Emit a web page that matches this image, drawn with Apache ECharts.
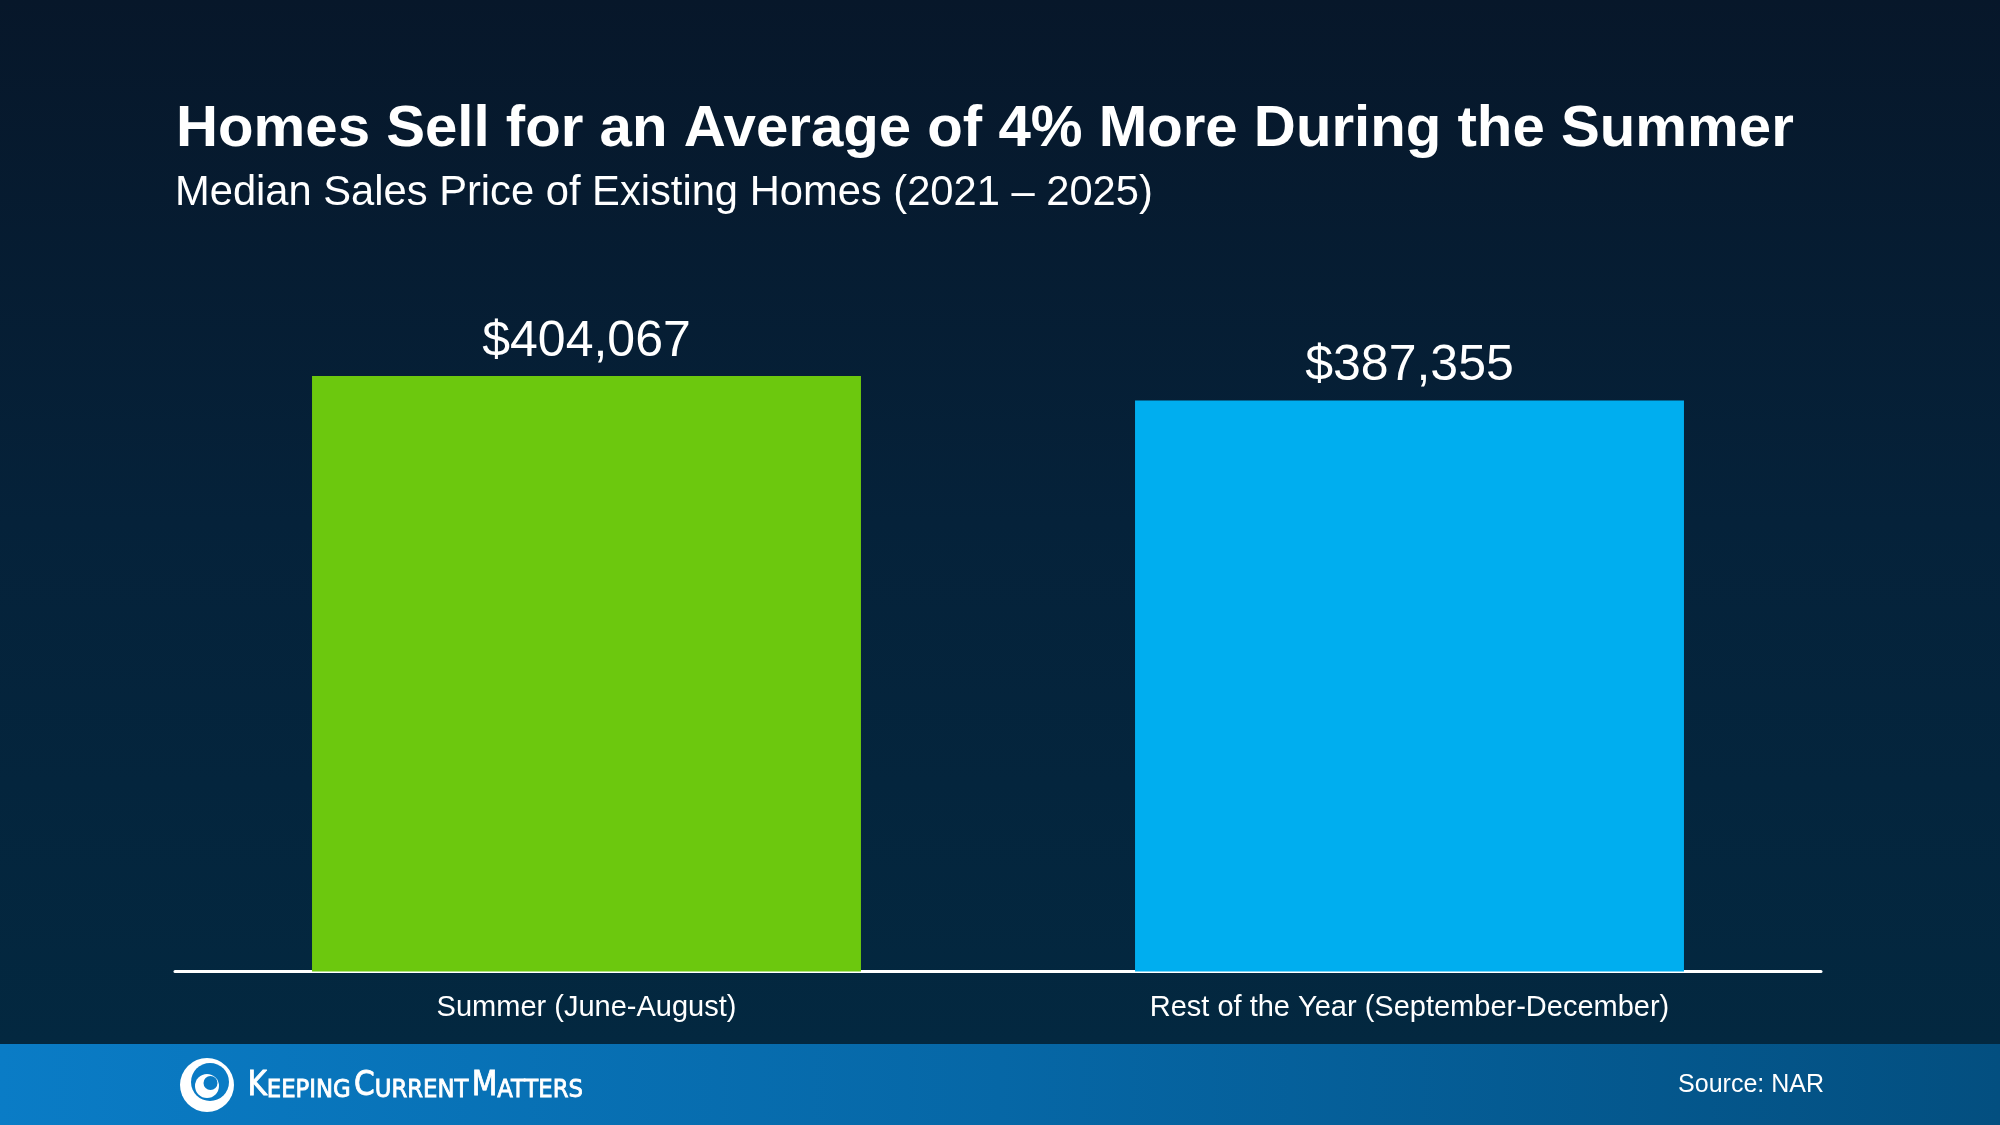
<!DOCTYPE html>
<html>
<head>
<meta charset="utf-8">
<title>Homes Sell for an Average of 4% More During the Summer</title>
<script src="https://cdn.jsdelivr.net/npm/echarts@6/dist/echarts.min.js"></script>
<style>
  html, body { margin: 0; padding: 0; background: #061b2c; }
  #chart { width: 2000px; height: 1125px; }
</style>
</head>
<body>
<div id="chart"></div>
<script>
// data
var categories = ['Summer (June-August)', 'Rest of the Year (September-December)'];
var prices = [404067, 387355];
var barColors = ['#6cc80e', '#00aeef'];

var FONT = '"Liberation Sans", Arial, Helvetica, sans-serif';
var NARROW = '"Liberation Sans Narrow", "DejaVu Sans Condensed", "Liberation Sans", sans-serif';

var chart = echarts.init(document.getElementById('chart'));

function money(v) {
    return '$' + v.toString().replace(/\B(?=(\d{3})+(?!\d))/g, ',');
}

var option = {
    backgroundColor: 'transparent',
    animation: false,
    title: [{
        text: 'Homes Sell for an Average of 4% More During the Summer',
        left: 171,
        top: 96,
        textStyle: { color: '#ffffff', fontSize: 58.2, fontWeight: 'bold', fontFamily: FONT }
    }, {
        text: 'Median Sales Price of Existing Homes (2021 \u2013 2025)',
        left: 170,
        top: 168,
        textStyle: { color: '#ffffff', fontSize: 41.7, fontWeight: 'normal', fontFamily: FONT }
    }],
    grid: { left: 175, right: 179, top: 205, bottom: 153.5 },
    xAxis: {
        type: 'category',
        data: categories,
        axisLine: { lineStyle: { color: '#ffffff', width: 3 } },
        axisTick: { show: false },
        axisLabel: { color: '#ffffff', fontSize: 29, fontFamily: FONT, margin: 22, interval: 0 }
    },
    yAxis: {
        type: 'value',
        min: 0,
        max: 520000,
        show: false,
        splitLine: { show: false }
    },
    series: [{
        type: 'bar',
        barWidth: '66.7%',
        data: prices.map(function (v, i) {
            return { value: v, itemStyle: { color: barColors[i] } };
        }),
        label: {
            show: true,
            position: 'top',
            distance: 9,
            color: '#ffffff',
            fontSize: 50,
            fontFamily: FONT,
            formatter: function (p) { return money(p.value); }
        }
    }],
    graphic: [
        {
            type: 'rect', z: -10, silent: true,
            shape: { x: 0, y: 0, width: 2000, height: 1044 },
            style: {
                fill: new echarts.graphic.LinearGradient(0, 0, 0, 1, [
                    { offset: 0, color: '#07172a' },
                    { offset: 0.5, color: '#05223a' },
                    { offset: 1, color: '#032840' }
                ])
            }
        },
        {
            type: 'rect', z: -10, silent: true,
            shape: { x: 0, y: 1044, width: 2000, height: 81 },
            style: {
                fill: new echarts.graphic.LinearGradient(0, 0, 1, 0.3, [
                    { offset: 0, color: '#0a7cc6' },
                    { offset: 0.5, color: '#0667a6' },
                    { offset: 1, color: '#034f80' }
                ])
            }
        },
        // logo swirl
        { type: 'circle', silent: true, shape: { cx: 207, cy: 1085, r: 27 }, style: { fill: '#ffffff' } },
        { type: 'circle', silent: true, shape: { cx: 210, cy: 1082, r: 19 }, style: { fill: '#0a7bc5' } },
        { type: 'circle', silent: true, shape: { cx: 207, cy: 1086, r: 12 }, style: { fill: '#ffffff' } },
        { type: 'circle', silent: true, shape: { cx: 210.5, cy: 1083, r: 7 }, style: { fill: '#0a7bc5' } },
        {
            type: 'text', silent: true,
            left: 247, top: 1070,
            style: {
                text: '{b|K}{s|EEPING} {b|C}{s|URRENT} {b|M}{s|ATTERS}',
                rich: {
                    b: { fill: '#ffffff', stroke: '#ffffff', lineWidth: 0.8, fontSize: 33, fontFamily: NARROW, verticalAlign: 'bottom' },
                    s: { fill: '#ffffff', stroke: '#ffffff', lineWidth: 0.8, fontSize: 25.3, fontFamily: NARROW, verticalAlign: 'bottom' }
                }
            }
        },
        {
            type: 'text', silent: true,
            right: 176, top: 1073,
            style: { text: 'Source: NAR', fill: '#ffffff', fontSize: 25, fontFamily: FONT }
        }
    ]
};

chart.setOption(option);
</script>
</body>
</html>
